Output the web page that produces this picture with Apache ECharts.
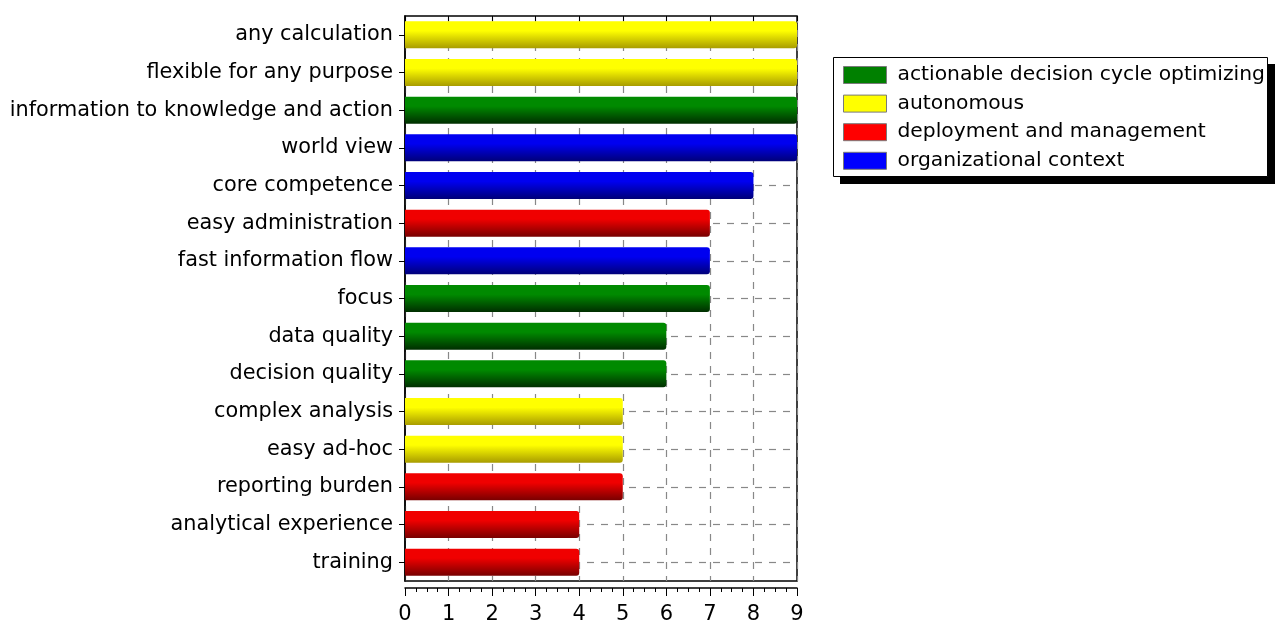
<!DOCTYPE html>
<html>
<head>
<meta charset="utf-8">
<style>
  html, body { margin: 0; padding: 0; background: #ffffff; }
  #chart { width: 1276px; height: 626px; }
</style>
<script src="https://cdn.jsdelivr.net/npm/echarts@6/dist/echarts.min.js"></script>
</head>
<body>
<div id="chart"></div>
<script>
// Criteria, listed top to bottom
const categories = [
  'any calculation', 'flexible for any purpose', 'information to knowledge and action',
  'world view', 'core competence', 'easy administration', 'fast information flow',
  'focus', 'data quality', 'decision quality', 'complex analysis', 'easy ad-hoc',
  'reporting burden', 'analytical experience', 'training'
];
const scores = [9, 9, 9, 9, 8, 7, 7, 7, 6, 6, 5, 5, 5, 4, 4];
const groupOf = [
  'autonomous', 'autonomous', 'actionable decision cycle optimizing',
  'organizational context', 'organizational context', 'deployment and management',
  'organizational context', 'actionable decision cycle optimizing',
  'actionable decision cycle optimizing', 'actionable decision cycle optimizing',
  'autonomous', 'autonomous', 'deployment and management',
  'deployment and management', 'deployment and management'
];
const groups = [
  'actionable decision cycle optimizing', 'autonomous',
  'deployment and management', 'organizational context'
];
const xTicks = [0, 1, 2, 3, 4, 5, 6, 7, 8, 9];

// Flat legend colour and top/bottom shades for the cylinder look
const palette = {
  'actionable decision cycle optimizing': { flat: '#008000', top: '#008a00', bottom: '#002e00' },
  'autonomous': { flat: '#ffff00', top: '#ffff00', bottom: '#a89c00' },
  'deployment and management': { flat: '#ff0000', top: '#f00000', bottom: '#780000' },
  'organizational context': { flat: '#0000ff', top: '#0000f0', bottom: '#000078' }
};

function shade(g) {
  const p = palette[g];
  return new echarts.graphic.LinearGradient(0, 0, 0, 1, [
    { offset: 0, color: p.top },
    { offset: 0.35, color: p.top },
    { offset: 1, color: p.bottom }
  ]);
}

const series = groups.map(g => ({
  name: g,
  type: 'bar',
  stack: 'one',
  barWidth: 27,
  data: scores.map((v, i) => (groupOf[i] === g ? v : '-')),
  itemStyle: { color: shade(g), borderRadius: [0, 3, 3, 0] }
}));

const font = 'DejaVu Sans';
const chart = echarts.init(document.getElementById('chart'), null, { renderer: 'canvas' });
chart.setOption({
  animation: false,
  backgroundColor: '#ffffff',
  grid: {
    left: 405, right: 479, top: 16, bottom: 45,
    show: true, borderColor: '#000000', borderWidth: 1.5, backgroundColor: 'transparent'
  },
  // Legend frame with a hard drop shadow
  graphic: [
    { type: 'rect', z: 1, shape: { x: 840, y: 64, width: 435, height: 120 },
      style: { fill: '#000000' } },
    { type: 'rect', z: 2, shape: { x: 833.5, y: 57.5, width: 434, height: 119 },
      style: { fill: '#ffffff', stroke: '#000000', lineWidth: 1 } }
  ],
  legend: {
    z: 10,
    orient: 'vertical',
    left: 843, top: 65,
    padding: 0,
    itemWidth: 43, itemHeight: 17, itemGap: 8.6,
    textStyle: { fontFamily: font, fontSize: 20.3, color: '#000000',
                 padding: [2, 0, 0, 6] },
    data: groups.map(g => ({ name: g, icon: 'rect',
      itemStyle: { color: palette[g].flat, borderColor: '#7a7a7a', borderWidth: 1 } }))
  },
  xAxis: [
    {
      type: 'value', position: 'bottom', min: 0, max: 9, interval: 1,
      offset: 7,
      axisLine: { show: true, lineStyle: { color: '#000000', width: 1.5 } },
      axisTick: { show: true, length: 8, lineStyle: { color: '#000000' } },
      minorTick: { show: true, splitNumber: 4, length: 4, lineStyle: { color: '#000000' } },
      axisLabel: { fontFamily: font, fontSize: 21, color: '#000000', margin: 16,
                   formatter: v => (xTicks.includes(v) ? String(v) : '') },
      splitLine: { show: true, lineStyle: { color: '#888888', type: [7, 7], width: 1.2 } }
    },
    {
      type: 'value', position: 'top', min: 0, max: 9, interval: 1,
      axisLine: { show: false },
      axisTick: { show: true, inside: true, length: 5, lineStyle: { color: '#000000' } },
      axisLabel: { show: false },
      splitLine: { show: false }
    }
  ],
  yAxis: {
    type: 'category', inverse: true, data: categories,
    axisLine: { show: true, lineStyle: { color: '#000000', width: 1.5 } },
    axisTick: { show: true, alignWithLabel: true, length: 6, lineStyle: { color: '#000000' } },
    axisLabel: { fontFamily: font, fontSize: 20.8, color: '#000000', margin: 12,
                 padding: [2, 0, 0, 0] },
    splitLine: { show: true, alignWithLabel: true, lineStyle: { color: '#888888', type: [7, 7], width: 1.2 } }
  },
  series: series
});
</script>
</body>
</html>
